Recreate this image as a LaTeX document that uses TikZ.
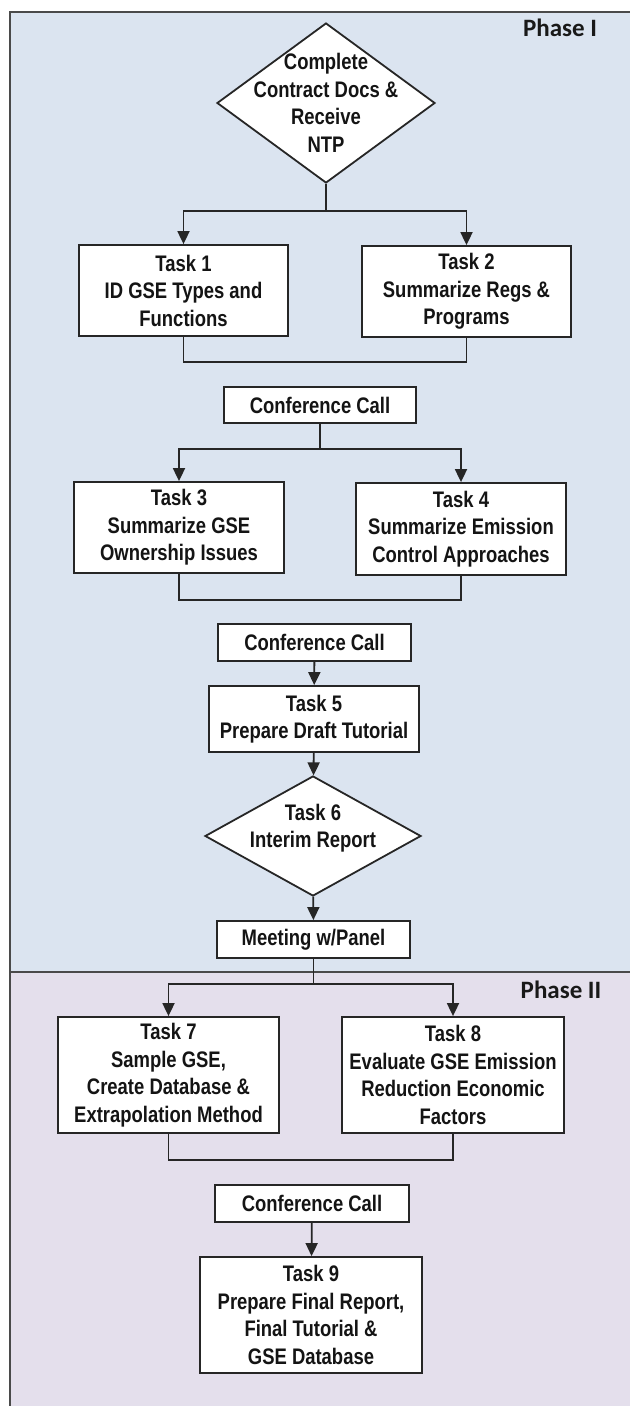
\documentclass[tikz,border=0pt]{standalone}
\usepackage{fontspec}
\setmainfont[FakeStretch=0.82]{Liberation Sans}
\newfontfamily\phasefont{Carlito}
\usetikzlibrary{shapes.geometric,arrows.meta}
\definecolor{phaseone}{HTML}{DBE4F0}
\definecolor{phasetwo}{HTML}{E4DFEC}
\definecolor{frameline}{HTML}{4A4A4A}
\definecolor{boxline}{HTML}{262626}
\tikzset{
  taskbox/.style={draw=boxline,line width=1.8pt,fill=white,rectangle,inner sep=0pt,align=center,
    font=\fontsize{22.5}{27.5}\selectfont\bfseries,text=black!92},
  decision/.style={taskbox,diamond,inner sep=-60pt},
  phaselabel/.style={font=\phasefont\fontsize{25}{30}\selectfont\bfseries,text=black!90},
  link/.style={draw=boxline,line width=1.8pt},
  >={Triangle[width=12pt,length=13pt]}
}
\begin{document}
\begin{tikzpicture}[x=1pt,y=-1pt]
  \useasboundingbox (0,0) rectangle (630,1406);
  % phase panels
  \fill[phaseone] (10,12) rectangle (630,972);
  \fill[phasetwo] (10,972) rectangle (630,1406);
  \draw[frameline,line width=1.8pt] (10,1406) -- (10,12) -- (630,12);
  \draw[frameline,line width=1.8pt] (10,972) -- (630,972);
  \node[phaselabel] (phaseI) at (560,28) {Phase I};
  \node[phaselabel] (phaseII) at (561,990) {Phase II};

  % phase I
  \node[decision,minimum width=218pt,minimum height=160pt] (start) at (326,103)
    {Complete\\Contract Docs \&\\Receive\\NTP};
  \node[taskbox,minimum width=209pt,minimum height=91pt] (t1) at (183.5,290.5)
    {Task 1\\ID GSE Types and\\Functions};
  \node[taskbox,minimum width=209pt,minimum height=91pt] (t2) at (466.5,291.5)
    {Task 2\\Summarize Regs \&\\Programs};
  \node[taskbox,minimum width=192pt,minimum height=36pt] (call1) at (320,405) {Conference Call};
  \node[taskbox,minimum width=210pt,minimum height=91pt] (t3) at (179,527.5)
    {Task 3\\Summarize GSE\\Ownership Issues};
  \node[taskbox,minimum width=210pt,minimum height=92pt] (t4) at (461,529)
    {Task 4\\Summarize Emission\\Control Approaches};
  \node[taskbox,minimum width=193pt,minimum height=37pt] (call2) at (314.5,642.5) {Conference Call};
  \node[taskbox,minimum width=210pt,minimum height=66pt] (t5) at (314,719)
    {Task 5\\Prepare Draft Tutorial};
  \node[decision,minimum width=216pt,minimum height=120pt,text depth=20pt] (t6) at (313,836)
    {Task 6\\Interim Report};
  \node[taskbox,minimum width=193pt,minimum height=37pt] (meet) at (313.5,939.5) {Meeting w/Panel};

  % phase II
  \node[taskbox,minimum width=221pt,minimum height=116pt] (t7) at (168.5,1075)
    {Task 7\\Sample GSE,\\Create Database \&\\Extrapolation Method};
  \node[taskbox,minimum width=222pt,minimum height=116pt] (t8) at (453,1075)
    {Task 8\\Evaluate GSE Emission\\Reduction Economic\\Factors};
  \node[taskbox,minimum width=194pt,minimum height=37pt] (call3) at (312,1203.5) {Conference Call};
  \node[taskbox,minimum width=222pt,minimum height=116pt] (t9) at (311,1315)
    {Task 9\\Prepare Final Report,\\Final Tutorial \&\\GSE Database};

  % connectors
  \draw[link] (start.south) -- ++(0,27) coordinate (split1);
  \draw[link,->] (split1) -| (t1.north);
  \draw[link,->] (split1) -| (t2.north);
  \draw[link] (t1.south) -- ++(0,25) -| (t2.south);
  \draw[link] (call1.south) -- ++(0,25) coordinate (split2);
  \draw[link,->] (split2) -| (t3.north);
  \draw[link,->] (split2) -| (t4.north);
  \draw[link] (t3.south) -- ++(0,26) -| (t4.south);
  \draw[link,->] (call2) -- (t5);
  \draw[link,->] (t5) -- (t6);
  \draw[link,->] (t6) -- (meet);
  \draw[link] (meet.south) -- ++(0,25) coordinate (split3);
  \draw[link,->] (split3) -| (t7.north);
  \draw[link,->] (split3) -| (t8.north);
  \draw[link] (t7.south) -- ++(0,26) -| (t8.south);
  \draw[link,->] (call3) -- (t9);
\end{tikzpicture}
\end{document}
